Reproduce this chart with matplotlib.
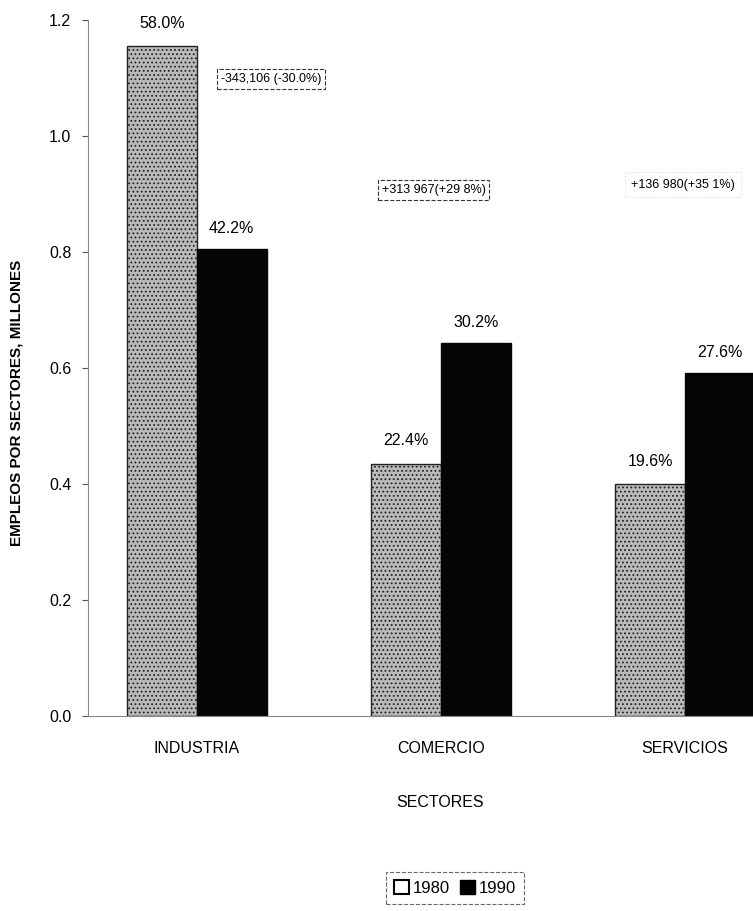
import matplotlib
matplotlib.use("Agg")
import matplotlib.pyplot as plt
from matplotlib.patches import Patch
import numpy as np

categories = ["INDUSTRIA", "COMERCIO", "SERVICIOS"]
values_1980 = [1.155, 0.435, 0.40]
values_1990 = [0.805, 0.643, 0.591]
pct_1980 = ["58.0%", "22.4%", "19.6%"]
pct_1990 = ["42.2%", "30.2%", "27.6%"]
change_labels = ["-343,106 (-30.0%)", "+313 967(+29 8%)", "+136 980(+35 1%)"]
yticks = [0.0, 0.2, 0.4, 0.6, 0.8, 1.0, 1.2]

W, H = 753, 911
plt.rcParams['font.family'] = ['Liberation Sans', 'DejaVu Sans']
plt.rcParams['hatch.color'] = '#8c8c8c'
plt.rcParams['hatch.linewidth'] = 0.8
fig = plt.figure(figsize=(W / 100, H / 100), dpi=100)

left, right, top, bottom = 88, 753, 20, 716
ax = fig.add_axes([left / W, 1 - bottom / H, (right - left) / W, (bottom - top) / H])
upp = 1.2 / (bottom - top)  # data units per pixel

x = np.arange(len(categories))
bw = 0.286
ax.bar(x - bw / 2, values_1980, bw, color='#bababa', edgecolor='#222222', linewidth=1.0,
       hatch='....', label='1980')
ax.bar(x + bw / 2, values_1990, bw, color='#050505', edgecolor='#050505', linewidth=1.0,
       label='1990')

for i in range(len(categories)):
    ax.text(x[i] - bw / 2, values_1980[i] + 23 * upp, pct_1980[i], ha='center', va='center',
            fontsize=11.5)
    ax.text(x[i] + bw / 2, values_1990[i] + 21 * upp, pct_1990[i], ha='center', va='center',
            fontsize=11.5)

ax.set_xlim(-0.445, 2.278)
ax.set_ylim(0, 1.2)
ax.set_yticks(yticks)
ax.set_yticklabels([f"{t:.1f}" for t in yticks], fontsize=11.5)
ax.set_xticks(x)
ax.set_xticklabels(categories, fontsize=11.5)
ax.tick_params(axis='x', length=0, pad=18)
ax.tick_params(axis='y', direction='out', length=4, pad=8, color='#555555')
for s in ['top', 'right']:
    ax.spines[s].set_visible(False)
ax.spines['left'].set_color('#888888')
ax.spines['bottom'].set_color('#888888')

ax.set_ylabel("EMPLEOS POR SECTORES, MILLONES", fontsize=11, fontweight='bold',
              family=['Liberation Sans Narrow', 'Liberation Sans', 'DejaVu Sans'])
ax.yaxis.set_label_coords(-0.097, 0.45)
ax.set_xlabel("SECTORES", fontsize=11.5)
ax.xaxis.set_label_coords((440 - left) / (right - left), -(795 - bottom) / (bottom - top))

# change annotations
box_pos = [(0.306, 1.098), (0.97, 0.907), (1.99, 0.916)]
for (bx, by), lab, i in zip(box_pos, change_labels, range(3)):
    if i < 2:
        ax.text(bx, by, lab, ha='center', va='center', fontsize=9,
                bbox=dict(boxstyle='square,pad=0.3', fc='white', ec='#333333', lw=0.8, ls='--'))
    else:
        ax.text(bx, by, lab, ha='center', va='center', fontsize=9,
                bbox=dict(boxstyle='square,pad=0.5', fc='white', ec='#d0d0d0', lw=0.6, ls=':'))

handles = [Patch(facecolor='white', edgecolor='black', linewidth=1.5, label='1980'),
           Patch(facecolor='black', edgecolor='black', label='1990')]
leg = fig.legend(handles=handles, loc='center', bbox_to_anchor=(455 / W, 1 - 888 / H),
                 ncol=2, fontsize=12, frameon=True, fancybox=False, edgecolor='#444444',
                 handlelength=0.9, handleheight=0.9, handletextpad=0.2, columnspacing=0.6,
                 borderpad=0.5)
leg.get_frame().set_linestyle('--')
leg.get_frame().set_linewidth(0.8)

fig.savefig("out.png", dpi=100)
